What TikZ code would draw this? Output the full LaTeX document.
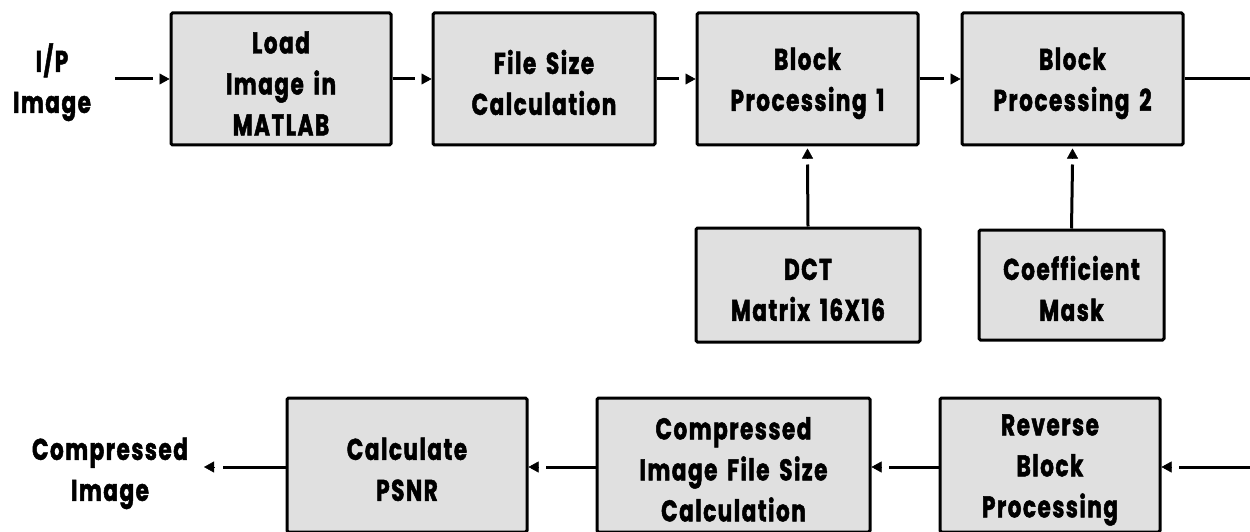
\documentclass[tikz,border=0pt]{standalone}
\usepackage{fontspec}
\newfontfamily\lblfont{Poppins}[FakeStretch=0.72, LetterSpace=5, WordSpace=1.6, BoldFeatures={FakeBold=1.6}]
\newcommand\fstrut{\rule{0pt}{31pt}}
\usetikzlibrary{arrows.meta}
\begin{document}
\begin{tikzpicture}[x=1pt,y=-1pt,
  txt/.style={align=center, font=\lblfont\bfseries\fontsize{30}{41}\selectfont},
  box/.style={txt, draw=black, line width=3pt, fill=black!12, rounded corners=1.5pt, inner sep=0pt},
  lbl/.style={txt},
  wire/.style={line width=3pt},
  head/.style={line width=0.5pt, -{Triangle[length=10pt,width=11pt]}}
]
\useasboundingbox (0,0) rectangle (1250,532);
% top row
\node[lbl] (in) at (52,81) {\fstrut I/P\\Image};
\node[box, minimum width=220pt, minimum height=132pt] (b1) at (281,79) {\fstrut Load\\Image in\\MATLAB};
\node[box, minimum width=222pt, minimum height=132pt] (b2) at (544,79) {\fstrut File Size\\Calculation};
\node[box, minimum width=221pt, minimum height=132pt] (b3) at (807.5,79) {\fstrut Block\\Processing 1};
\node[box, minimum width=221pt, minimum height=132pt] (b4) at (1072.5,79) {\fstrut Block\\Processing 2};
% middle row
\node[box, minimum width=224pt, minimum height=114pt] (dct) at (808,285) {\fstrut DCT\\Matrix 16X16};
\node[box, minimum width=185pt, minimum height=110pt] (mask) at (1071.5,285) {\fstrut Coefficient\\Mask};
% bottom row
\node[box, minimum width=240pt, minimum height=134pt] (psnr) at (407,465) {\fstrut Calculate\\PSNR};
\node[box, minimum width=273pt, minimum height=134pt] (cifs) at (733.5,465) {\fstrut Compressed\\Image File Size\\Calculation};
\node[box, minimum width=220pt, minimum height=134pt] (rbp) at (1050,465) {\fstrut Reverse\\Block\\Processing};
\node[lbl] (out) at (110,469) {\fstrut Compressed\\Image};
\coordinate (r1) at (1250,79);
\coordinate (r2) at (1250,467);
\coordinate (inS) at (115,79);
\coordinate (outE) at (204,467);

% top connectors
\draw[wire] (inS) -- ([xshift=-17pt]b1.west);
\draw[head] ([xshift=-10pt]b1.west) -- (b1.west);
\draw[wire] (b1.east) -- ([xshift=-17pt]b2.west);
\draw[head] ([xshift=-10pt]b2.west) -- (b2.west);
\draw[wire] (b2.east) -- ([xshift=-17pt]b3.west);
\draw[head] ([xshift=-10pt]b3.west) -- (b3.west);
\draw[wire] (b3.east) -- ([xshift=-17pt]b4.west);
\draw[head] ([xshift=-10pt]b4.west) -- (b4.west);
\draw[wire] (b4.east) -- (r1);
% vertical connectors
\draw[wire] (dct.north) -- ([yshift=-18pt]b3.south);
\draw[head] ([yshift=-12pt]b3.south) -- ([yshift=-2pt]b3.south);
\draw[wire] (mask.north) -- ([yshift=-18pt]b4.south);
\draw[head] ([yshift=-12pt]b4.south) -- ([yshift=-2pt]b4.south);
% bottom connectors
\draw[wire] (r2) -- ([xshift=17pt]rbp.east |- r2);
\draw[head] ([xshift=10pt]rbp.east |- r2) -- (rbp.east |- r2);
\draw[wire] (rbp.west |- r2) -- ([xshift=17pt]cifs.east |- r2);
\draw[head] ([xshift=10pt]cifs.east |- r2) -- (cifs.east |- r2);
\draw[wire] (cifs.west |- r2) -- ([xshift=17pt]psnr.east |- r2);
\draw[head] ([xshift=10pt]psnr.east |- r2) -- (psnr.east |- r2);
\draw[wire] (psnr.west |- r2) -- ([xshift=19pt]outE);
\draw[head] ([xshift=10pt]outE) -- (outE);
\end{tikzpicture}
\end{document}
